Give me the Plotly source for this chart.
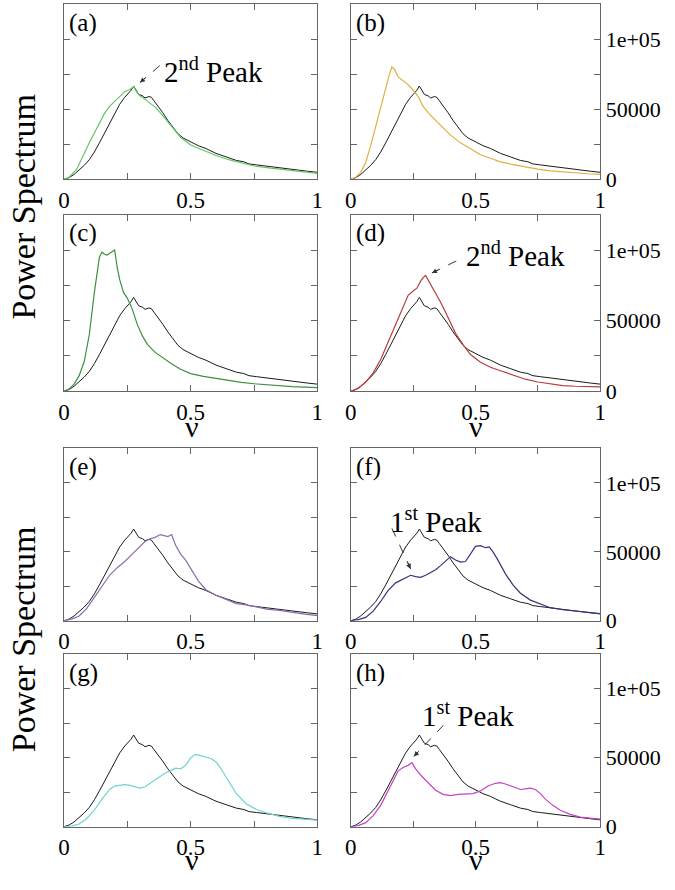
import plotly.graph_objects as go

# reference spectrum (black), same in every panel
nu_ref = [0, 0.02, 0.04, 0.06, 0.08, 0.10, 0.12, 0.14, 0.16, 0.18, 0.20, 0.22, 0.24, 0.255, 0.265,
          0.275, 0.285, 0.295, 0.31, 0.32, 0.335, 0.345, 0.355, 0.37, 0.39, 0.41, 0.43, 0.45, 0.47,
          0.50, 0.53, 0.56, 0.60, 0.64, 0.68, 0.71, 0.73, 0.76, 0.80, 0.84, 0.88, 0.92, 0.96, 1.0]
p_ref = [0, 1200, 3500, 6500, 10000, 14000, 19500, 26000, 33000, 40000, 47000, 53500, 58500, 61500, 63500,
         66500, 63000, 60500, 59500, 58000, 59000, 58500, 56000, 52500, 47500, 42000, 37000, 32500, 29500,
         26500, 24000, 22000, 18500, 16000, 13500, 12500, 11000, 10300, 9300, 8300, 7500, 6600, 5800, 5000]

nu_a = [0, 0.02, 0.05, 0.08, 0.10, 0.12, 0.14, 0.16, 0.18, 0.20, 0.22, 0.24, 0.26, 0.275, 0.29, 0.30,
        0.32, 0.34, 0.36, 0.38, 0.40, 0.43, 0.46, 0.50, 0.55, 0.60, 0.65, 0.70, 0.75, 0.80, 0.85, 0.90, 0.95, 1.0]
p_a = [0, 1500, 7000, 19000, 26000, 33000, 40000, 47000, 52000, 55500, 59500, 62500, 64000, 66000, 61500, 59500,
       57000, 54500, 51500, 47500, 43000, 36000, 30000, 24500, 20500, 17000, 14000, 11500, 9500, 8300, 7200, 6000, 5000, 4200]

nu_b = [0, 0.02, 0.04, 0.06, 0.08, 0.10, 0.12, 0.14, 0.155, 0.165, 0.175, 0.19, 0.21, 0.23, 0.25, 0.27,
        0.29, 0.31, 0.34, 0.37, 0.40, 0.44, 0.48, 0.52, 0.56, 0.60, 0.65, 0.70, 0.75, 0.80, 0.85, 0.90, 0.95, 1.0]
p_b = [0, 1500, 5000, 12000, 24000, 38000, 52000, 66000, 75000, 80000, 78500, 73000, 70000, 67500, 63500, 59000,
       52000, 47500, 42000, 36500, 31500, 26000, 21500, 17500, 15000, 12500, 10500, 8800, 7300, 6000, 5200, 4500, 4000, 3600]

nu_c = [0, 0.02, 0.04, 0.06, 0.08, 0.10, 0.12, 0.13, 0.14, 0.15, 0.16, 0.17, 0.18, 0.19, 0.20, 0.21, 0.22,
        0.235, 0.25, 0.27, 0.29, 0.31, 0.33, 0.36, 0.39, 0.42, 0.46, 0.50, 0.55, 0.60, 0.65, 0.70, 0.75,
        0.80, 0.85, 0.90, 0.95, 1.0]
p_c = [0, 1500, 5000, 11000, 21000, 40000, 70000, 84000, 95000, 98500, 97000, 96500, 97500, 99000, 100000, 88000, 79000,
       70000, 66000, 58000, 47000, 39000, 33000, 27500, 23500, 20000, 15500, 12500, 10500, 9000, 7500, 6300, 5300,
       4500, 3800, 3300, 2900, 2600]

nu_d = [0, 0.03, 0.06, 0.09, 0.12, 0.15, 0.17, 0.19, 0.21, 0.23, 0.25, 0.265, 0.28, 0.29, 0.30, 0.31, 0.32,
        0.34, 0.36, 0.38, 0.40, 0.42, 0.45, 0.48, 0.52, 0.56, 0.60, 0.65, 0.70, 0.75, 0.80, 0.85, 0.90, 0.95, 1.0]
p_d = [0, 2000, 6500, 13000, 22500, 35000, 43000, 52000, 61000, 68000, 71000, 73000, 78000, 80500, 82000, 79000, 75000,
       69000, 63000, 56000, 48000, 41000, 33000, 26000, 20500, 17000, 14500, 11500, 8500, 6500, 5000, 4000, 3500, 3200, 3000]

nu_e = [0, 0.03, 0.06, 0.09, 0.12, 0.15, 0.18, 0.21, 0.24, 0.27, 0.30, 0.32, 0.34, 0.36, 0.38, 0.395, 0.41,
        0.425, 0.44, 0.46, 0.48, 0.50, 0.53, 0.56, 0.60, 0.64, 0.68, 0.72, 0.76, 0.80, 0.85, 0.90, 0.95, 1.0]
p_e = [0, 1200, 3500, 9000, 17000, 25000, 33000, 38500, 43000, 48500, 54000, 57500, 59500, 60500, 62500, 61500, 61000,
       62500, 55000, 48500, 44000, 38000, 29000, 22500, 18500, 15500, 12500, 11500, 10000, 8500, 7500, 6000, 4800, 3800]

nu_f = [0, 0.03, 0.06, 0.09, 0.12, 0.15, 0.18, 0.20, 0.22, 0.24, 0.26, 0.28, 0.30, 0.32, 0.34, 0.36, 0.38,
        0.40, 0.42, 0.44, 0.46, 0.48, 0.50, 0.52, 0.54, 0.555, 0.57, 0.59, 0.62, 0.65, 0.68, 0.72, 0.76,
        0.80, 0.85, 0.90, 0.95, 1.0]
p_f = [0, 800, 2500, 7000, 14000, 22000, 27500, 29500, 31500, 33000, 32000, 31500, 33000, 35000, 37000, 40000, 43500,
       46500, 44000, 42500, 43000, 48500, 54000, 54500, 53000, 53500, 50000, 44000, 34000, 26000, 20000, 15000, 12000,
       9500, 8000, 7000, 6000, 5200]

nu_g = [0, 0.03, 0.06, 0.09, 0.12, 0.15, 0.18, 0.20, 0.22, 0.24, 0.26, 0.28, 0.30, 0.32, 0.34, 0.36, 0.38,
        0.40, 0.42, 0.44, 0.46, 0.48, 0.50, 0.52, 0.54, 0.56, 0.58, 0.60, 0.62, 0.65, 0.68, 0.72, 0.76,
        0.80, 0.85, 0.90, 0.95, 1.0]
p_g = [0, 500, 2000, 6000, 12000, 20000, 27000, 29500, 30000, 30500, 30000, 29000, 28000, 29000, 31500, 34000, 37000,
       39000, 40500, 42500, 42000, 44500, 50000, 52500, 51500, 50500, 49500, 47000, 42000, 33000, 24000, 16500, 12500,
       10000, 7500, 6000, 5200, 4800]

nu_h = [0, 0.03, 0.06, 0.09, 0.12, 0.15, 0.17, 0.19, 0.21, 0.23, 0.245, 0.26, 0.28, 0.30, 0.32, 0.34, 0.37,
        0.40, 0.43, 0.46, 0.49, 0.52, 0.55, 0.58, 0.60, 0.62, 0.64, 0.66, 0.68, 0.70, 0.72, 0.74, 0.76, 0.78,
        0.81, 0.84, 0.88, 0.92, 0.96, 1.0]
p_h = [0, 800, 3000, 8000, 15500, 26000, 34000, 40500, 43000, 44500, 46500, 42000, 37500, 34000, 30000, 26500, 23500,
       22500, 23500, 24000, 24000, 26000, 29500, 31500, 32000, 31000, 29500, 28000, 27000, 27500, 28000, 27000, 24000, 20000,
       15500, 12000, 9000, 7000, 6000, 5500]

panel_labels = ["(a)", "(b)", "(c)", "(d)", "(e)", "(f)", "(g)", "(h)"]
x_ticks = [0, 0.25, 0.5, 0.75, 1]
x_ticktext = ["0", "", "0.5", "", "1"]
y_ticks = [0, 25000, 50000, 75000, 100000]
y_ticktext = ["0", "", "50000", "", "1e+05"]

series = [(nu_a, p_a, "#62c662"), (nu_b, p_b, "#deb040"), (nu_c, p_c, "#3f8f3f"), (nu_d, p_d, "#b83c3c"),
          (nu_e, p_e, "#8c6cae"), (nu_f, p_f, "#34347e"), (nu_g, p_g, "#72d2d2"), (nu_h, p_h, "#c444c4")]

W, H = 675, 890
FONT = "Liberation Serif"
AX = "#666666"


def px(x):
    return x / W


def py(y):
    return 1 - y / H


col_dom = [[px(59), px(317)], [px(351), px(605)]]
row_px = [(4, 182), (218, 397), (455, 630), (664, 839)]
row_dom = [[py(b), py(t)] for t, b in row_px]
Y_MAX = 125000


def ax_names(k):
    s = "" if k == 1 else str(k)
    return "x" + s, "y" + s


fig = go.Figure()
layout = dict(width=W, height=H, margin=dict(l=0, r=0, t=0, b=0),
              paper_bgcolor="white", plot_bgcolor="white", showlegend=False,
              font=dict(family=FONT, color="black", size=22))
annotations = []
shapes = []

for i, (nu, p, col) in enumerate(series):
    r, c = divmod(i, 2)
    k = i + 1
    xa, ya = ax_names(k)
    fig.add_trace(go.Scatter(x=nu_ref, y=p_ref, mode="lines", line=dict(color="#1a1a1a", width=1),
                             xaxis=xa, yaxis=ya, hoverinfo="skip"))
    fig.add_trace(go.Scatter(x=nu, y=p, mode="lines", line=dict(color=col, width=1.2),
                             xaxis=xa, yaxis=ya, hoverinfo="skip"))
    common = dict(showline=True, linecolor=AX, linewidth=1, mirror="ticks", ticks="inside",
                  tickcolor=AX, ticklen=6, showgrid=False, zeroline=False)
    layout["xaxis" + xa[1:]] = dict(domain=col_dom[c], range=[0, 1], anchor=ya, tickvals=x_ticks,
                                    ticktext=x_ticktext, tickfont=dict(family=FONT, size=23), **common)
    layout["yaxis" + ya[1:]] = dict(domain=row_dom[r], range=[0, Y_MAX], anchor=xa, tickvals=y_ticks,
                                    ticktext=y_ticktext, showticklabels=(c == 1),
                                    side="right" if c == 1 else "left",
                                    tickfont=dict(family=FONT, size=22), **common)
    annotations.append(dict(text=panel_labels[i], xref=xa + " domain", yref=ya + " domain",
                            x=0.012, y=0.985, xanchor="left", yanchor="top", showarrow=False,
                            font=dict(family=FONT, size=25)))

# "Peak" callouts: (panel, text, text x, text y, arrow tail, arrow tip)
callouts = [
    (1, "2<sup>nd</sup> Peak", 0.385, 78000, (0.378, 81000), (0.30, 69000)),
    (4, "2<sup>nd</sup> Peak", 0.455, 97000, (0.423, 92300), (0.325, 83700)),
    (6, "1<sup>st</sup> Peak", 0.148, 73000, (0.165, 67000), (0.24, 37600)),
    (8, "1<sup>st</sup> Peak", 0.278, 81500, (0.371, 73500), (0.253, 51000)),
]
for k, txt, tx, ty, tail, tip in callouts:
    c = (k - 1) % 2
    r = (k - 1) // 2
    xa, ya = ax_names(k)
    annotations.append(dict(text=txt, xref=xa, yref=ya, x=tx, y=ty, xanchor="left", yanchor="middle",
                            showarrow=False, font=dict(family=FONT, size=29)))
    shapes.append(dict(type="line", xref=xa, yref=ya, x0=tail[0], y0=tail[1], x1=tip[0], y1=tip[1],
                       line=dict(color="#333333", width=1, dash="dash")))
    # short solid arrow just for the head
    sx = (col_dom[c][1] - col_dom[c][0]) * W
    sy = (row_dom[r][1] - row_dom[r][0]) * H / Y_MAX
    dx = (tail[0] - tip[0]) * sx
    dy = -(tail[1] - tip[1]) * sy
    n = (dx ** 2 + dy ** 2) ** 0.5
    annotations.append(dict(text="", xref=xa, yref=ya, x=tip[0], y=tip[1], ax=dx / n * 9, ay=dy / n * 9,
                            showarrow=True, arrowhead=2, arrowsize=1, arrowwidth=1, arrowcolor="#333333"))

# axis titles
for yc in [210, 649]:
    annotations.append(dict(text="Power Spectrum", xref="paper", yref="paper", x=px(18), y=py(yc),
                            xanchor="center", yanchor="middle", textangle=-90, showarrow=False,
                            font=dict(family=FONT, size=34)))
for yc in [433, 872]:
    for xc in [189, 478]:
        annotations.append(dict(text="ν", xref="paper", yref="paper", x=px(xc), y=py(yc),
                                xanchor="center", yanchor="middle", showarrow=False,
                                font=dict(family=FONT, size=30)))

layout["annotations"] = annotations
layout["shapes"] = shapes
fig.update_layout(**layout)
# drop the default body margin so the figure fills the window exactly
fig.write_html("out.html", config={"displayModeBar": False},
               post_script="document.body.style.margin='0px';")
